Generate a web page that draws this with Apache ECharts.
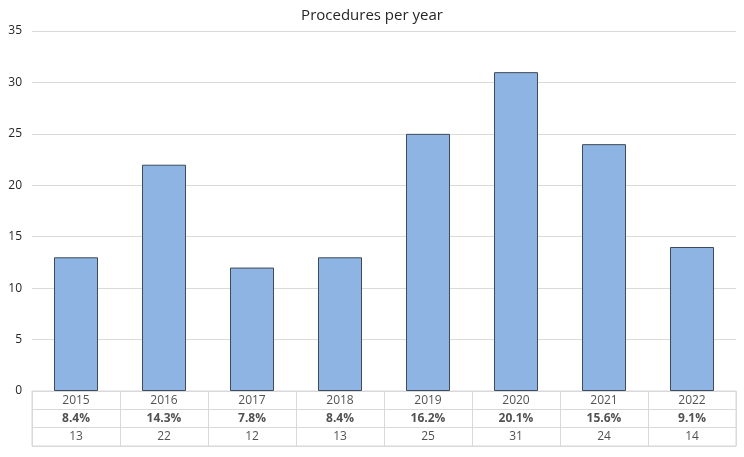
<!DOCTYPE html>
<html><head><meta charset="utf-8">
<script src="https://cdn.jsdelivr.net/npm/echarts@6/dist/echarts.min.js"></script>
<style>html,body{margin:0;padding:0;background:#fff}#c{width:744px;height:457px}</style>
</head><body><div id="c"></div>
<script>
const years = ['2015','2016','2017','2018','2019','2020','2021','2022'];
const counts = [13,22,12,13,25,31,24,14];
const percents = ['8.4%','14.3%','7.8%','8.4%','16.2%','20.1%','15.6%','9.1%'];
const rows = ['year','percent','count'];
const FONT = '"Open Sans", "Liberation Sans", sans-serif';
const chart = echarts.init(document.getElementById('c'), null, {renderer:'canvas'});
function rowSeries(rowIdx, texts, bold){
  return {
    type:'scatter', xAxisIndex:1, yAxisIndex:1, symbolSize:1,
    itemStyle:{color:'rgba(0,0,0,0)'}, silent:true,
    data: texts.map((t,i)=>({value:[i,rowIdx], name:t})),
    label:{show:true, position:'inside', formatter:p=>p.name, color:'#262626',
      fontFamily:FONT, fontSize:12, fontWeight: bold?'bold':'normal'}
  };
}
chart.setOption({
  animation:false,
  title:{text:'Procedures per year', left:'center', top:3,
    textStyle:{fontFamily:FONT, fontSize:15, fontWeight:'normal', color:'#262626'}},
  grid:[
    {left:32, right:8, top:31, height:360},
    {left:32, right:8, top:391, height:55, show:true, borderColor:'#D9D9D9', borderWidth:1}
  ],
  xAxis:[
    {type:'category', gridIndex:0, data:years, boundaryGap:true,
      axisLine:{show:true, lineStyle:{color:'#D9D9D9'}}, axisTick:{show:false}, axisLabel:{show:false}},
    {type:'category', gridIndex:1, data:years, boundaryGap:true, position:'top',
      axisLine:{show:false}, axisTick:{show:false}, axisLabel:{show:false},
      splitLine:{show:true, lineStyle:{color:'#D9D9D9'}}}
  ],
  yAxis:[
    {type:'value', gridIndex:0, min:0, max:35, interval:5,
      axisLine:{show:false}, axisTick:{show:false},
      axisLabel:{color:'#262626', fontFamily:FONT, fontSize:12, margin:10},
      splitLine:{lineStyle:{color:'#D9D9D9'}}},
    {type:'category', gridIndex:1, data:rows, inverse:true, boundaryGap:true,
      axisLine:{show:false}, axisTick:{show:false}, axisLabel:{show:false},
      splitLine:{show:true, lineStyle:{color:'#D9D9D9'}}}
  ],
  series:[
    {type:'bar', xAxisIndex:0, yAxisIndex:0, data:counts, barWidth:'50%',
      itemStyle:{color:'#8DB4E2', borderColor:'#3E4A59', borderWidth:1}},
    rowSeries(0, years, false),
    rowSeries(1, percents, true),
    rowSeries(2, counts.map(String), false)
  ]
});
</script></body></html>
